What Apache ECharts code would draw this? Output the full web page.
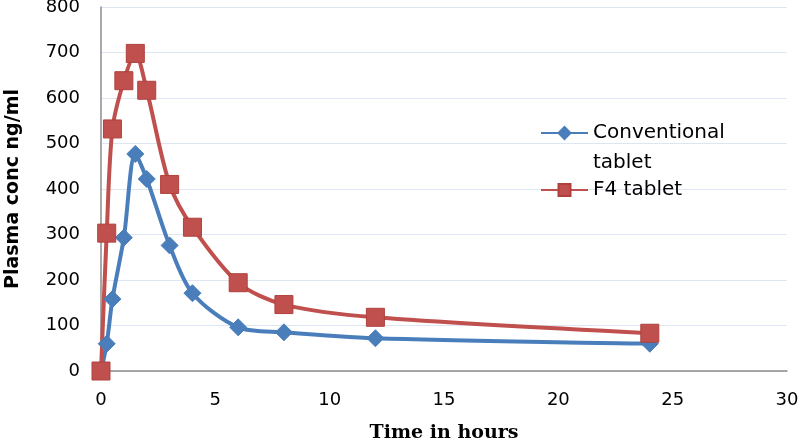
<!DOCTYPE html>
<html>
<head>
<meta charset="utf-8">
<script src="https://cdn.jsdelivr.net/npm/echarts@6/dist/echarts.min.js"></script>
<style>html,body{margin:0;padding:0;background:#fff}#c{width:799px;height:442px}</style>
</head>
<body>
<div id="c"></div>
<script>
const timeHours = [0, 0.25, 0.5, 1, 1.5, 2, 3, 4, 6, 8, 12, 24];
const conventional = [0, 60, 158, 293, 477, 422, 276, 171, 96, 85, 72, 60];
const f4 = [0, 303, 532, 638, 698, 617, 410, 316, 194, 146, 118, 83];
const xTicks = [0, 5, 10, 15, 20, 25, 30];
const yTicks = [0, 100, 200, 300, 400, 500, 600, 700, 800];
const seriesNames = ['Conventional tablet', 'F4 tablet'];

const pair = (ys) => timeHours.map((t, i) => [t, ys[i]]);
const chart = echarts.init(document.getElementById('c'), null, {renderer: 'canvas'});
const labelFont = {fontFamily: 'DejaVu Sans', fontSize: 18, color: '#000'};
const legendText = {fontFamily: 'DejaVu Sans', fontSize: 20, color: '#000', lineHeight: 30};
chart.setOption({
  animation: false,
  backgroundColor: '#fff',
  grid: {left: 101, right: 12, top: 7, bottom: 71, containLabel: false, outerBoundsMode: 'none'},
  legend: [
    {
      data: [seriesNames[0]], left: 540, top: 88, padding: 0, orient: 'vertical',
      itemWidth: 47, itemHeight: 15, itemGap: 0,
      formatter: () => ' \nConventional\ntablet',
      textStyle: legendText
    },
    {
      data: [seriesNames[1]], left: 540, top: 175, padding: 0, orient: 'vertical',
      itemWidth: 47, itemHeight: 15, itemGap: 0,
      textStyle: legendText
    }
  ],
  xAxis: {
    type: 'value', min: xTicks[0], max: xTicks[xTicks.length - 1], interval: 5,
    name: 'Time in hours', nameLocation: 'middle', nameGap: 53,
    nameTextStyle: {fontFamily: 'DejaVu Serif', fontWeight: 'bold', fontSize: 19, color: '#000'},
    axisLine: {show: true, lineStyle: {color: '#8c8c8c', width: 1.5}},
    axisTick: {show: false},
    splitLine: {show: false},
    axisLabel: Object.assign({margin: 20}, labelFont)
  },
  yAxis: {
    type: 'value', min: yTicks[0], max: yTicks[yTicks.length - 1], interval: 100,
    name: 'Plasma conc ng/ml', nameLocation: 'middle', nameGap: 78,
    nameTextStyle: {fontFamily: 'DejaVu Sans', fontWeight: 'bold', fontSize: 19, color: '#000'},
    axisLine: {show: true, lineStyle: {color: '#8c8c8c', width: 1.5}},
    axisTick: {show: false},
    splitLine: {show: true, lineStyle: {color: '#dde6f2', width: 1}},
    axisLabel: Object.assign({margin: 21}, labelFont)
  },
  series: [
    {
      name: seriesNames[0], type: 'line', data: pair(conventional), smooth: 0.3,
      symbol: 'diamond', symbolSize: 17,
      lineStyle: {color: '#4a7ebb', width: 4},
      itemStyle: {color: '#4a7ebb', borderColor: '#4a7ebb', borderWidth: 1}
    },
    {
      name: seriesNames[1], type: 'line', data: pair(f4), smooth: 0.3,
      symbol: 'rect', symbolSize: 18,
      lineStyle: {color: '#c0504d', width: 4},
      itemStyle: {color: '#c0504d', borderColor: '#b0403d', borderWidth: 1}
    }
  ]
});
</script>
</body>
</html>
